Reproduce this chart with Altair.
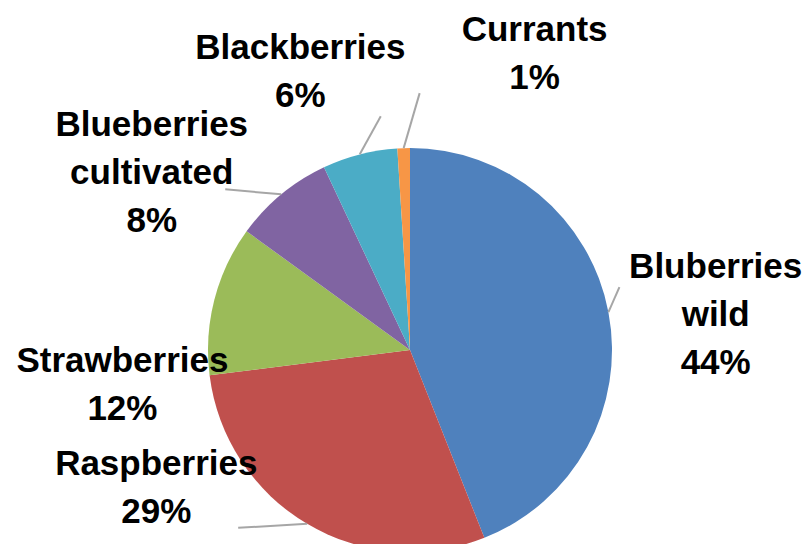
import altair as alt
import pandas as pd

# ---- data ----
categories = ["Bluberries wild", "Raspberries", "Strawberries",
              "Blueberries cultivated", "Blackberries", "Currants"]
shares = [44, 29, 12, 8, 6, 1]
colors = ["#4F81BD", "#C0504D", "#9BBB59", "#8064A2", "#4BACC6", "#F79646"]

df = pd.DataFrame({
    "category": categories,
    "share": shares,
    "order": list(range(len(categories))),
})
df["label"] = [c.replace(" ", "\n") + f"\n{v}%" for c, v in zip(categories, shares)]

# ---- layout (pixels, chart coordinates) ----
CX, CY, R = 402, 342, 202
LABEL_R = 300
LINE_H = 48
# label nudges (Excel-style manual label placement) and leader-line vectors
label_nudge = {
    "Bluberries wild": (11, 21),
    "Raspberries": (-101, -120),
    "Strawberries": (3, 110),
    "Blueberries cultivated": (-67, 54),
    "Blackberries": (-35, 13),
    "Currants": (134, 4),
}
leader = {
    "Bluberries wild": (11, -25),
    "Raspberries": (-69, 4),
    "Blueberries cultivated": (-56, -5),
    "Blackberries": (21, -38),
    "Currants": (16, -55),
}

base = alt.Chart(df)

pie = base.mark_arc(radius=R).encode(
    theta=alt.Theta("share:Q", stack=True),
    color=alt.Color("category:N", scale=alt.Scale(domain=categories, range=colors), legend=None),
    order=alt.Order("order:Q"),
    x=alt.value(CX),
    y=alt.value(CY),
)

geo = base.transform_window(
    cum="sum(share)", sort=[alt.SortField("order")]
).transform_joinaggregate(
    total="sum(share)"
).transform_calculate(
    ang="2*PI*(datum.cum - datum.share/2)/datum.total"
).transform_calculate(
    lx=f"{CX} + {LABEL_R}*sin(datum.ang)",
    ly=f"{CY} - {LABEL_R}*cos(datum.ang)",
    sx=f"{CX} + {R}*sin(datum.ang)",
    sy=f"{CY} - {R}*cos(datum.ang)",
)

layers = [pie]
for cat, (ddx, ddy) in leader.items():
    layers.append(
        geo.transform_filter(alt.datum.category == cat)
        .mark_rule(color="#A6A6A6", strokeWidth=2, x2Offset=ddx, y2Offset=ddy)
        .encode(
            x=alt.X("sx:Q", scale=None, axis=None),
            y=alt.Y("sy:Q", scale=None, axis=None),
            x2="sx:Q",
            y2="sy:Q",
        )
    )
labels_by_cat = dict(zip(df["category"], df["label"]))
for cat, (ndx, ndy) in label_nudge.items():
    n_lines = labels_by_cat[cat].count("\n") + 1
    layers.append(
        geo.transform_filter(alt.datum.category == cat)
        .mark_text(font="Liberation Sans", fontWeight="bold", fontSize=35,
                   lineBreak="\n", lineHeight=LINE_H, align="center", baseline="middle",
                   color="#000000", dx=ndx, dy=ndy - (n_lines - 1) * LINE_H / 2)
        .encode(
            x=alt.X("lx:Q", scale=None, axis=None),
            y=alt.Y("ly:Q", scale=None, axis=None),
            text="label:N",
        )
    )

chart = alt.layer(*layers).properties(
    width=796, height=536, autosize="none", padding=0, background="white"
).configure_view(stroke=None)

chart.save("out.html", embed_options={"renderer": "svg", "actions": False})
